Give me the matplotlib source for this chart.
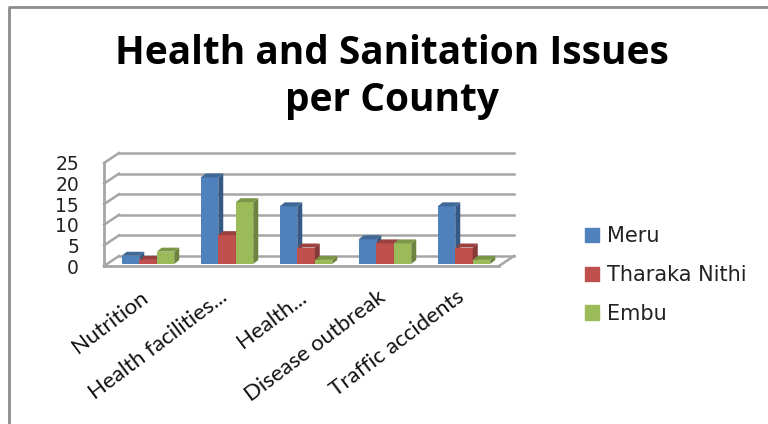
import matplotlib
matplotlib.use('Agg')
import matplotlib.pyplot as plt
from matplotlib.patches import Polygon, Patch

categories = ['Nutrition', 'Health facilities...', 'Health...', 'Disease outbreak', 'Traffic accidents']
counties = ['Meru', 'Tharaka Nithi', 'Embu']
meru = [2, 21, 14, 6, 14]
tharaka = [1, 7, 4, 5, 4]
embu = [3, 15, 1, 5, 1]
yticks = [0, 5, 10, 15, 20, 25]

front_colors = ['#4f81bd', '#c0504d', '#9bbb59']
side_colors = ['#355a86', '#853836', '#6d843e']
top_colors = ['#3f6897', '#9a403e', '#7c9647']

W, H = 768, 424
PX_X = 79.0    # pixels per category
PX_Y = 4.12    # pixels per value unit
X0, Y0 = 148, 266

plt.rcParams['font.family'] = ['Lato', 'DejaVu Sans']
fig = plt.figure(figsize=(W / 100, H / 100), dpi=100)
ax = fig.add_axes([0, 0, 1, 1])
ax.set_xlim(-X0 / PX_X, (W - X0) / PX_X)
ax.set_ylim((Y0 - H) / PX_Y, Y0 / PX_Y)
ax.axis('off')

# wall depth and bar depth, in data units
wall_dx, wall_dy = 15 / PX_X, 10 / PX_Y
bar_dx, bar_dy = 5 / PX_X, 4 / PX_Y
left, right = -44 / PX_X, 351 / PX_X
base = 2 / PX_Y
bar_w = 17.5 / PX_X

# walls
grid = '#a6a6a6'
for v in yticks:
    ax.plot([left + wall_dx, right + wall_dx], [v + wall_dy, v + wall_dy], color=grid, lw=1.8, zorder=1)
    ax.plot([left, left + wall_dx], [v, v + wall_dy], color=grid, lw=1.8, zorder=1)
    ax.text(left - 25 / PX_X, v - 2 / PX_Y, str(v), ha='right', va='center', fontsize=13.5,
            family='DejaVu Sans', color='#222222')
ax.plot([left, left], [0, 25], color=grid, lw=2, zorder=1)
ax.plot([left, right], [0, 0], color=grid, lw=2, zorder=1)
ax.plot([right, right + wall_dx], [0, wall_dy], color=grid, lw=1.8, zorder=1)

# bars
for s, vals in enumerate([meru, tharaka, embu]):
    offset = (s - 1) * bar_w
    for i, v in enumerate(vals):
        x0 = i + offset - bar_w / 2
        x1 = x0 + bar_w
        top = v + base
        ax.bar(x0, v, width=bar_w, bottom=base, align='edge', color=front_colors[s], zorder=3 + s)
        ax.add_patch(Polygon([(x1, base), (x1 + bar_dx, base + bar_dy), (x1 + bar_dx, top + bar_dy), (x1, top)],
                             closed=True, color=side_colors[s], lw=0, zorder=3 + s))
        ax.add_patch(Polygon([(x0, top), (x1, top), (x1 + bar_dx, top + bar_dy), (x0 + bar_dx, top + bar_dy)],
                             closed=True, color=top_colors[s], lw=0, zorder=3 + s))

# category labels
for i, c in enumerate(categories):
    ax.text(i - 8 / PX_X, -21 / PX_Y, c, rotation=37, ha='right', va='top', rotation_mode='anchor',
            fontsize=16, color='#111111')

# title
fig.text(392 / W, 1 - 54 / H, 'Health and Sanitation Issues', ha='center', va='center',
         fontsize=28, fontweight='bold', family='Open Sans', color='black')
fig.text(392 / W, 1 - 100 / H, 'per County', ha='center', va='center',
         fontsize=28, fontweight='bold', family='Open Sans', color='black')

# legend
handles = [Patch(color=c, label=n) for c, n in zip(front_colors, counties)]
fig.legend(handles=handles, loc='center left', bbox_to_anchor=(566 / W, 1 - 275 / H), frameon=False,
           prop={'family': 'DejaVu Sans', 'size': 15}, handlelength=0.68, handleheight=0.68,
           handletextpad=0.4, labelspacing=0.9, labelcolor='#222222')

# outer frame
fig.add_artist(plt.Line2D([8.5 / W, 8.5 / W, 1], [0, 1 - 6.5 / H, 1 - 6.5 / H], color='#8c8c8c', lw=2))

fig.savefig('out.png', dpi=100)
